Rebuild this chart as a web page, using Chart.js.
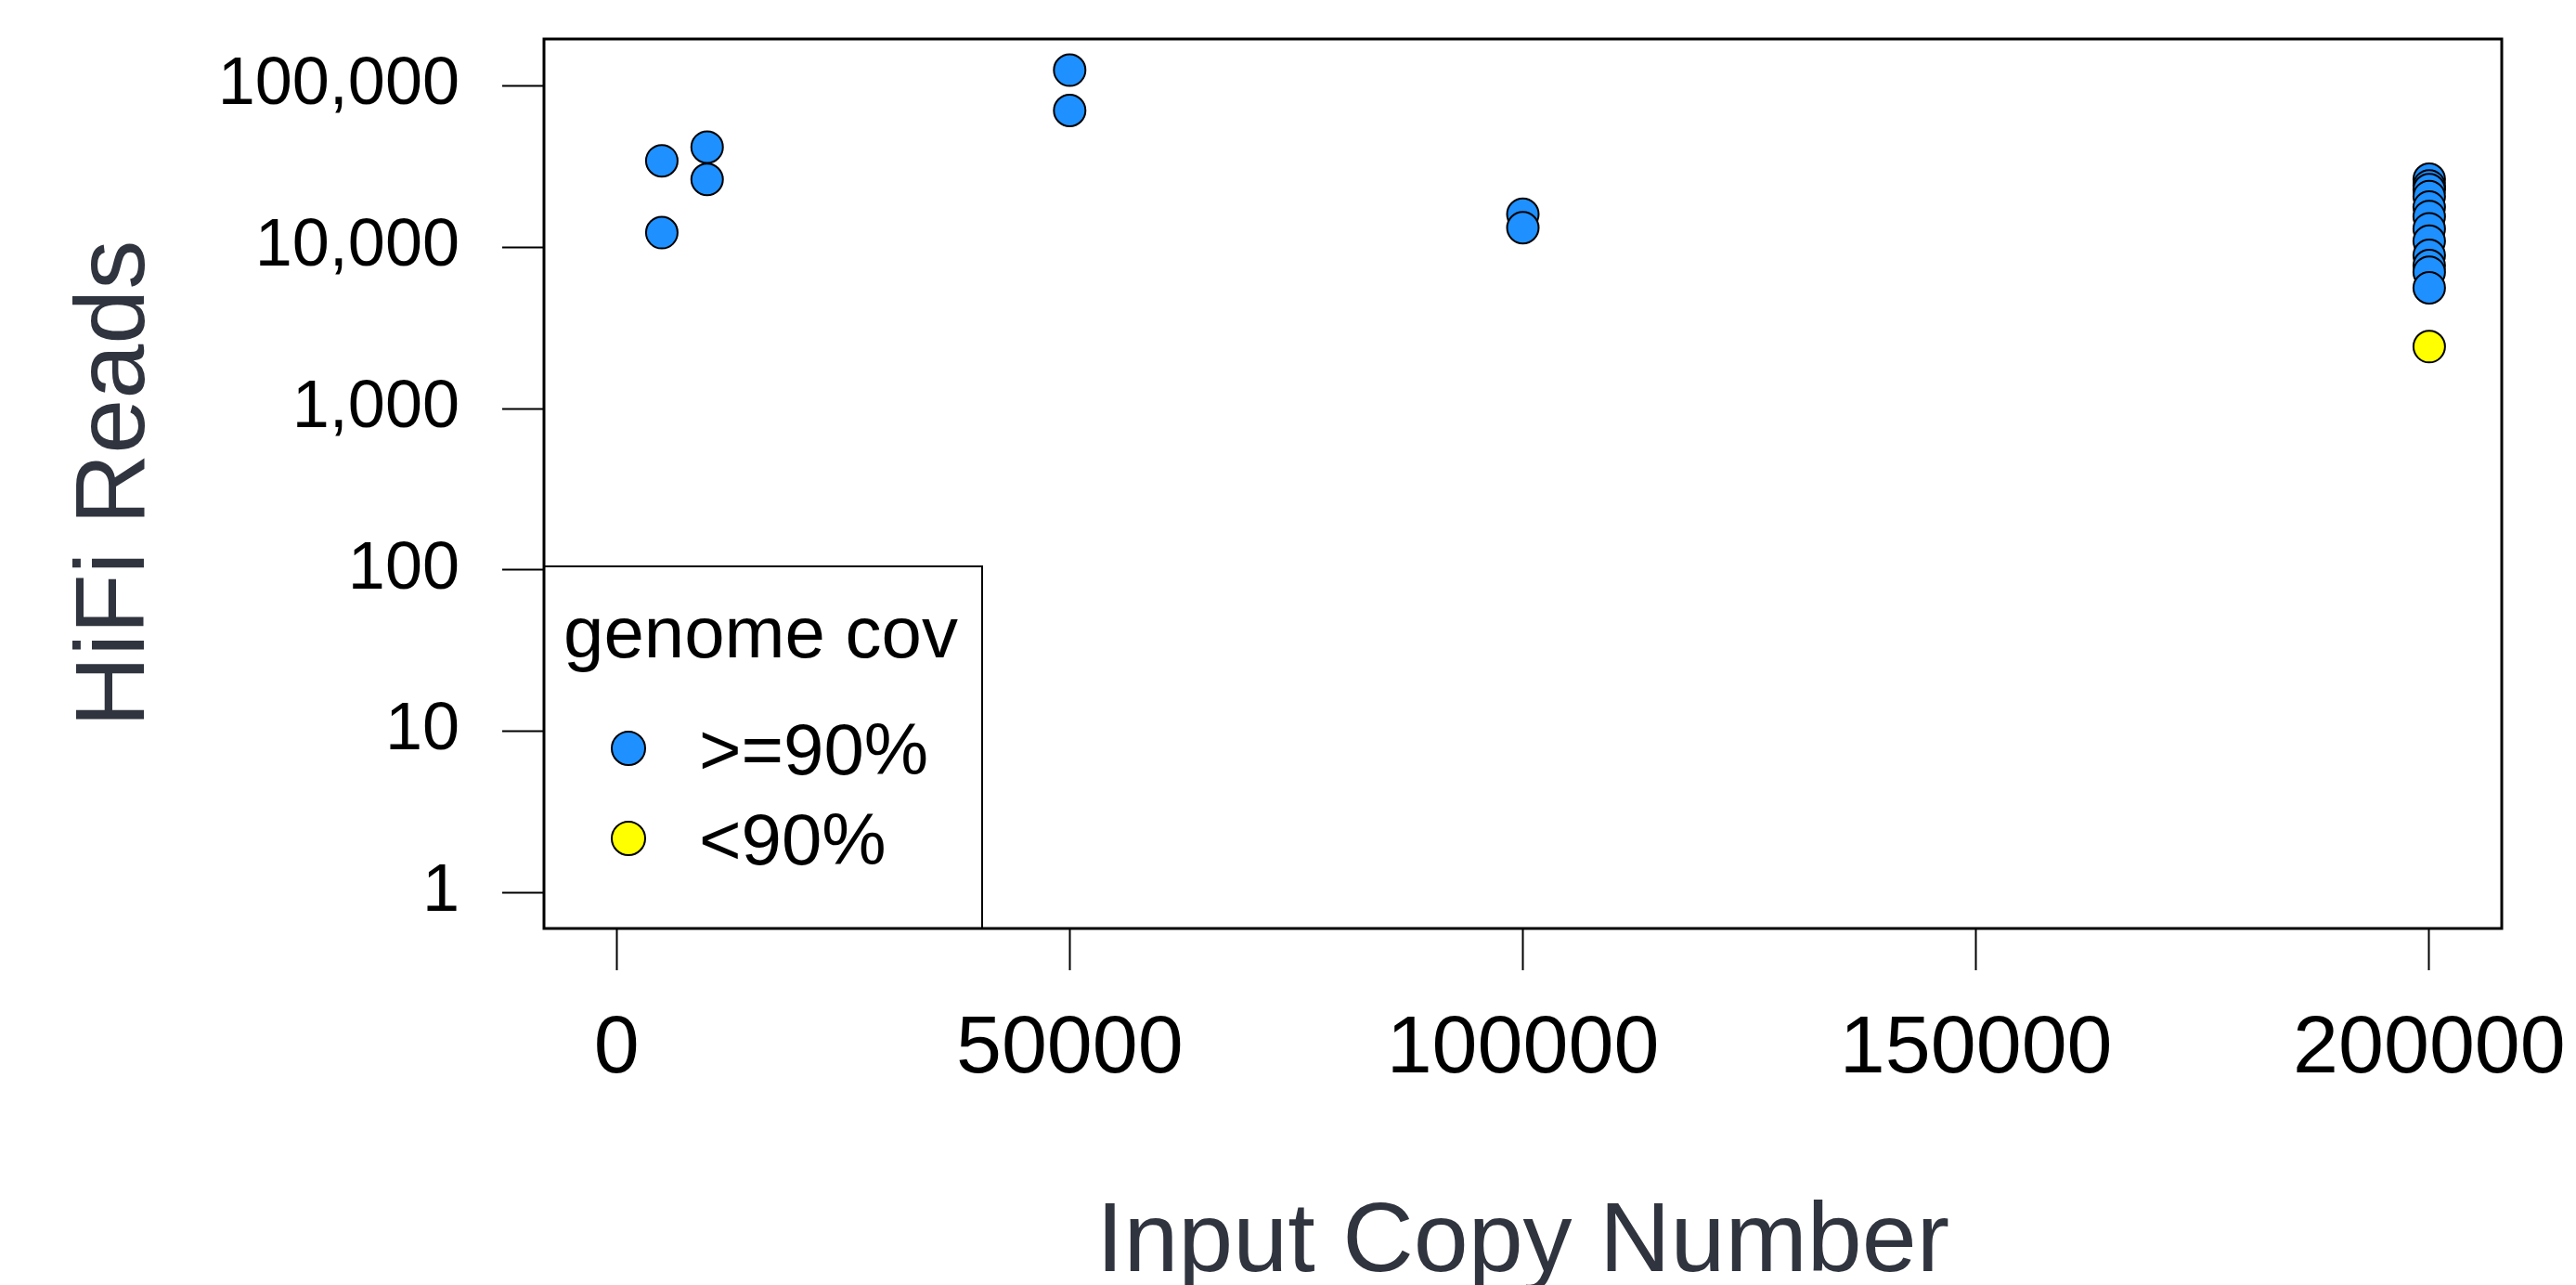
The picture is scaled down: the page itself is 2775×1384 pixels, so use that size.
<!DOCTYPE html>
<html>
<head>
<meta charset="utf-8">
<script src="https://cdn.jsdelivr.net/npm/chart.js@4"></script>
<style>
  body { margin: 0; background: #fff; }
  canvas { display: block; }
</style>
</head>
<body>
<canvas id="chart" width="2775" height="1384"></canvas>
<script>
// input copy number vs hifi reads, split by genome coverage
const copyHigh = [5000, 5000, 10000, 10000, 50000, 50000, 100000, 100000,
  200000, 200000, 200000, 200000, 200000, 200000, 200000, 200000, 200000, 200000, 200000, 200000];
const readsHigh = [34300, 12300, 41700, 26300, 125000, 70300, 16000, 13200,
  26400, 24000, 22700, 20600, 17700, 15500, 13000, 10900, 8900, 7700, 7000, 5600];
const copyLow = [200000];
const readsLow = [2420];

const xTicks = [0, 50000, 100000, 150000, 200000];
const yTicks = [1, 10, 100, 1000, 10000, 100000];

const seriesLabels = ['>=90%', '<90%'];
const legendTitle = 'genome cov';

const toPoints = (xs, ys) => xs.map((x, i) => ({x: x, y: ys[i]}));

// frame around plot + legend box in the lower left corner
const framePlugin = {
  id: 'frame',
  afterDraw(chart) {
    const ctx = chart.ctx;
    const a = chart.chartArea;
    ctx.save();

    // legend
    const lx = a.left, lr = a.left + 472, lt = a.bottom - 390, lb = a.bottom;
    ctx.fillStyle = '#fff';
    ctx.fillRect(lx, lt, lr - lx, lb - lt);
    ctx.strokeStyle = '#000';
    ctx.lineWidth = 2;
    ctx.strokeRect(lx, lt, lr - lx, lb - lt);

    ctx.fillStyle = '#000';
    ctx.font = '78px "Liberation Sans", Arial, sans-serif';
    ctx.textAlign = 'left';
    ctx.textBaseline = 'alphabetic';
    ctx.fillText(legendTitle, lx + 21, lt + 98);

    chart.data.datasets.forEach((ds, i) => {
      const cy = lt + 196 + i * 97;
      ctx.beginPath();
      ctx.arc(lx + 91, cy, 18, 0, Math.PI * 2);
      ctx.fillStyle = ds.backgroundColor;
      ctx.fill();
      ctx.lineWidth = 2;
      ctx.strokeStyle = '#000';
      ctx.stroke();
      ctx.fillStyle = '#000';
      ctx.fillText(ds.label, lx + 167, cy + 28);
    });

    // plot box
    ctx.lineWidth = 3;
    ctx.strokeStyle = '#000';
    ctx.strokeRect(a.left, a.top, a.right - a.left, a.bottom - a.top);
    ctx.restore();
  }
};

new Chart(document.getElementById('chart'), {
  type: 'scatter',
  data: {
    datasets: [
      {
        label: seriesLabels[0],
        data: toPoints(copyHigh, readsHigh),
        backgroundColor: '#1E90FF',
        borderColor: '#000',
        borderWidth: 2,
        pointRadius: 17,
        pointHoverRadius: 17
      },
      {
        label: seriesLabels[1],
        data: toPoints(copyLow, readsLow),
        backgroundColor: '#FFFF00',
        borderColor: '#000',
        borderWidth: 2,
        pointRadius: 17,
        pointHoverRadius: 17
      }
    ]
  },
  options: {
    responsive: false,
    animation: false,
    layout: { padding: { top: 42, right: 80, left: 0, bottom: 0 } },
    plugins: {
      legend: { display: false },
      tooltip: { enabled: false }
    },
    scales: {
      x: {
        type: 'linear',
        min: -8000,
        max: 208000,
        afterBuildTicks: s => { s.ticks = xTicks.map(v => ({value: v})); },
        afterFit: s => { s.height = 384; s.paddingLeft = 0; s.paddingRight = 0; },
        grid: { drawOnChartArea: false, tickLength: 45, tickColor: '#000', tickWidth: 2 },
        border: { display: false },
        ticks: {
          color: '#000',
          padding: 33,
          maxRotation: 0,
          font: { family: '"Liberation Sans", Arial, sans-serif', size: 88 },
          callback: v => String(v)
        },
        title: {
          display: true,
          text: 'Input Copy Number',
          color: '#30343e',
          font: { family: '"Liberation Sans", Arial, sans-serif', size: 106, lineHeight: 0.8 },
          padding: { top: 0, bottom: 2 }
        }
      },
      y: {
        type: 'logarithmic',
        min: 0.626,
        max: 195000,
        afterBuildTicks: s => { s.ticks = yTicks.map(v => ({value: v})); },
        afterFit: s => { s.width = 586; s.paddingTop = 0; s.paddingBottom = 0; },
        grid: { drawOnChartArea: false, tickLength: 45, tickColor: '#000', tickWidth: 2 },
        border: { display: false },
        ticks: {
          color: '#000',
          padding: 46,
          font: { family: '"Liberation Sans", Arial, sans-serif', size: 72 },
          callback: v => Number(v).toLocaleString('en-US')
        },
        title: {
          display: true,
          text: 'HiFi Reads',
          color: '#30343e',
          font: { family: '"Liberation Sans", Arial, sans-serif', size: 106, lineHeight: 1.2 },
          padding: { top: 62, bottom: 0 }
        }
      }
    }
  },
  plugins: [framePlugin]
});
</script>
</body>
</html>
